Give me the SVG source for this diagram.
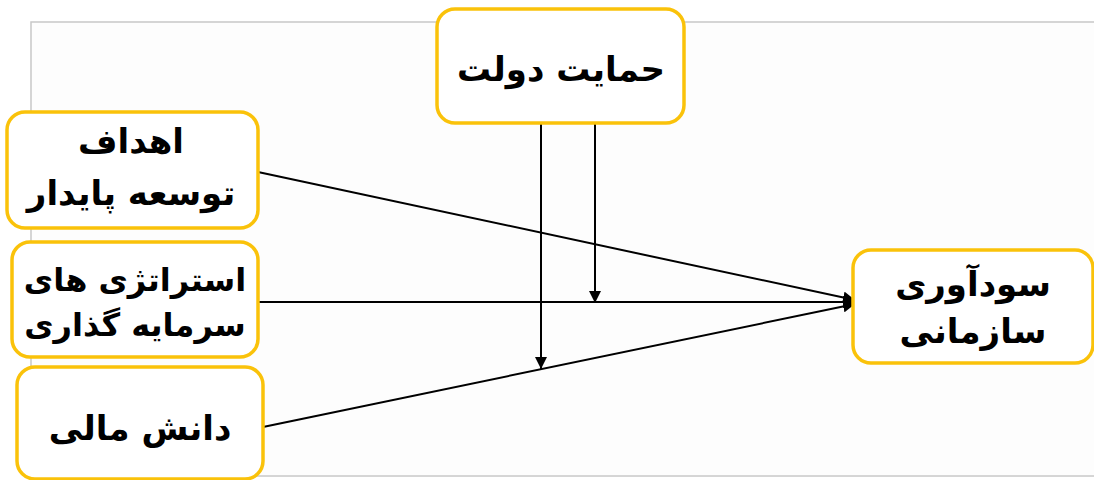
<svg xmlns="http://www.w3.org/2000/svg" width="1094" height="480" viewBox="0 0 1094 480">
<defs>
<marker id="arr" viewBox="0 0 12 12" refX="12" refY="6" markerWidth="12" markerHeight="12" markerUnits="userSpaceOnUse" orient="auto">
<path d="M0,0 L12,6 L0,12 z" fill="#000"/>
</marker>
<style>
.box{fill:#fff;stroke:#FAC20A;stroke-width:3.5}
.lbl{font-family:"DejaVu Sans",sans-serif;font-weight:bold;font-size:34px;fill:#000;text-anchor:middle}
.sm{font-size:32px}
.ln{stroke:#000;stroke-width:2;fill:none}
</style>
</defs>
<rect width="1094" height="480" fill="#fff"/>
<rect x="31" y="22" width="1070" height="454" fill="#fdfdfd" stroke="#c8c8c8" stroke-width="1.5"/>
<g id="connectors">
<line class="ln" x1="258" y1="172" x2="855" y2="300" marker-end="url(#arr)"/>
<line class="ln" x1="258" y1="302" x2="855" y2="302" marker-end="url(#arr)"/>
<line class="ln" x1="263" y1="427" x2="855" y2="304" marker-end="url(#arr)"/>
<line class="ln" x1="541" y1="123" x2="541" y2="369" marker-end="url(#arr)"/>
<line class="ln" x1="595" y1="123" x2="595" y2="303" marker-end="url(#arr)"/>
</g>
<g id="n-gov">
<rect class="box" x="437" y="9" width="247" height="114" rx="18"/>
<text class="lbl" x="561" y="81" direction="rtl">حمایت دولت</text>
</g>
<g id="n-goals">
<rect class="box" x="7" y="112" width="251" height="116" rx="18"/>
<text class="lbl" x="131" y="153" direction="rtl">اهداف</text>
<text class="lbl" x="131" y="205" direction="rtl">توسعه پایدار</text>
</g>
<g id="n-strat">
<rect class="box" x="12" y="242" width="246" height="115" rx="18"/>
<text class="lbl sm" x="135" y="291" direction="rtl">استراتژی های</text>
<text class="lbl sm" x="135" y="336" direction="rtl">سرمایه گذاری</text>
</g>
<g id="n-know">
<rect class="box" x="17" y="367" width="246" height="112" rx="18"/>
<text class="lbl" x="140" y="440" direction="rtl">دانش مالی</text>
</g>
<g id="n-profit">
<rect class="box" x="853" y="250" width="240" height="113" rx="18"/>
<text class="lbl" x="973" y="296" direction="rtl">سودآوری</text>
<text class="lbl" x="973" y="343" direction="rtl">سازمانی</text>
</g>
</svg>
